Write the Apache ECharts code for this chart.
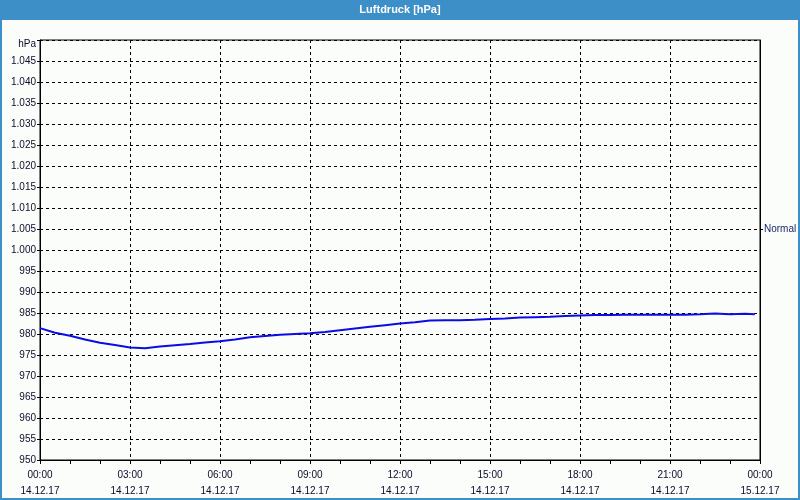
<!DOCTYPE html>
<html>
<head>
<meta charset="utf-8">
<script src="https://cdn.jsdelivr.net/npm/echarts@6/dist/echarts.min.js"></script>
<style>
html,body{margin:0;padding:0;background:#fbfdfb;}
#c{width:800px;height:500px;}
</style>
</head>
<body>
<div id="c"></div>
<script>
var titleText = 'Luftdruck [hPa]';
var hours = [0,0.5,1,1.5,2,2.5,3,3.5,4,4.5,5,5.5,6,6.5,7,7.5,8,8.5,9,9.5,10,10.5,11,11.5,12,12.5,13,13.5,14,14.5,15,15.5,16,16.5,17,17.5,18,18.5,19,19.5,20,20.5,21,21.5,22,22.5,23,23.5,23.83];
var pressure = [981.4,980.3,979.6,978.7,977.9,977.4,976.8,976.6,977.0,977.3,977.6,978.0,978.3,978.7,979.2,979.5,979.8,980.0,980.2,980.5,980.9,981.3,981.7,982.1,982.5,982.8,983.2,983.3,983.3,983.4,983.6,983.7,983.9,984.0,984.1,984.3,984.4,984.5,984.5,984.6,984.6,984.6,984.6,984.6,984.7,984.9,984.7,984.8,984.7];
var xTickHours = [0,3,6,9,12,15,18,21,24];
var xTimeLabels = ['00:00','03:00','06:00','09:00','12:00','15:00','18:00','21:00','00:00'];
var xDateLabels = ['14.12.17','14.12.17','14.12.17','14.12.17','14.12.17','14.12.17','14.12.17','14.12.17','15.12.17'];
var yUnitLabel = 'hPa';
var normalValue = 1005;
var normalLabel = 'Normal';

var chart = echarts.init(document.getElementById('c'), null, {renderer:'canvas'});
var seriesData = hours.map(function(h,i){return [h, pressure[i]];});
var txtColor = '#0c0c2a';
var font = '"Liberation Sans", sans-serif';
var fs = 10;

function fmtY(v){
  if (v === 1050) return '{u|' + yUnitLabel + '}';
  if (v >= 1000) { var s = String(v); return s.charAt(0) + '.' + s.slice(1); }
  return String(v);
}

chart.setOption({
  animation:false,
  backgroundColor:'#fbfdfb',
  textStyle:{fontFamily:font},
  graphic:[
    {type:'rect', shape:{x:0,y:0,width:800,height:20}, style:{fill:'#3d8fc7'}, z:10},
    {type:'rect', shape:{x:0,y:0,width:2,height:500}, style:{fill:'#3d8fc7'}, z:10},
    {type:'rect', shape:{x:798,y:0,width:2,height:500}, style:{fill:'#3d8fc7'}, z:10},
    {type:'rect', shape:{x:0,y:498,width:800,height:2}, style:{fill:'#3d8fc7'}, z:10},
    {type:'text', left:'center', top:4, style:{text:titleText, fill:'#ffffff', font:'bold 11px "Liberation Sans", sans-serif'}, z:11}
  ],
  grid:{left:40,right:40,top:40,bottom:40,show:true,borderColor:'#000',borderWidth:1,backgroundColor:'transparent',outerBoundsMode:'none',containLabel:false},
  xAxis:{
    type:'value', min:0, max:24, interval:3,
    axisLine:{show:true,lineStyle:{color:'#000',width:1}},
    axisTick:{show:true,length:4,lineStyle:{color:'#000'}},
    minorTick:{show:true,splitNumber:3,length:4,lineStyle:{color:'#000'}},
    splitLine:{show:true,lineStyle:{color:'#000',type:[3,3],width:1}},
    axisLabel:{
      margin:7, color:txtColor, fontSize:fs, fontFamily:font, lineHeight:16,
      formatter:function(v){var i = xTickHours.indexOf(v); return i<0?'':xTimeLabels[i]+'\n'+xDateLabels[i];}
    }
  },
  yAxis:[
    {
      type:'value', min:950, max:1050, interval:5,
      axisLine:{show:true,lineStyle:{color:'#000',width:1}},
      axisTick:{show:true,length:3,lineStyle:{color:'#000'}},
      splitLine:{show:true,lineStyle:{color:'#000',type:[3,3],width:1}},
      axisLabel:{margin:4,color:txtColor,fontSize:fs,fontFamily:font,formatter:fmtY,
        rich:{u:{fontSize:fs,fontFamily:font,color:txtColor,padding:[9,0,0,0]}}}
    },
    {
      type:'value', min:950, max:1050, position:'right',
      axisLine:{show:true,lineStyle:{color:'#000',width:1}},
      axisTick:{show:true,length:3,customValues:[normalValue],lineStyle:{color:'#000'}},
      splitLine:{show:false},
      axisLabel:{margin:4,color:'#1a2a6a',fontSize:fs,fontFamily:font,customValues:[normalValue],formatter:function(){return normalLabel;}}
    }
  ],
  series:[{
    type:'line', data:seriesData, showSymbol:false, yAxisIndex:0,
    lineStyle:{color:'#0c0ce6',width:2}, z:5
  }]
});
</script>
</body>
</html>
